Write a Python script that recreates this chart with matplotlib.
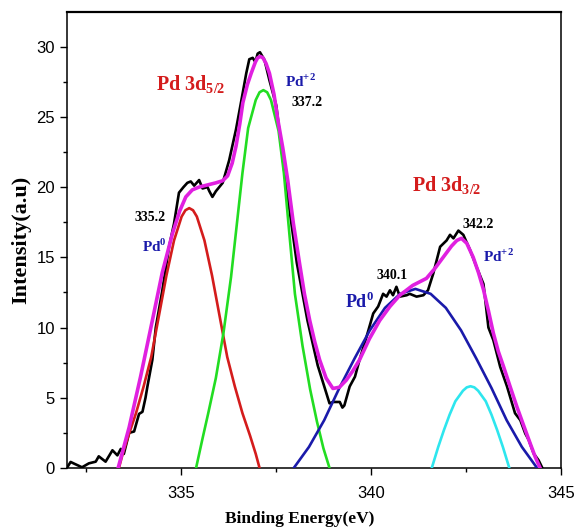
import matplotlib
matplotlib.use("Agg")
import matplotlib.pyplot as plt
from matplotlib.ticker import MultipleLocator

plt.rcParams['font.family'] = ['Liberation Sans', 'DejaVu Sans']
plt.rcParams['mathtext.fontset'] = 'custom'
plt.rcParams['mathtext.rm'] = 'Liberation Serif'
plt.rcParams['mathtext.bf'] = 'Liberation Serif:bold'

# raw spectrum (black)
raw_x = [332.0, 332.1, 332.2, 332.4, 332.58, 332.76, 332.84, 333.02, 333.2, 333.33, 333.42, 333.5,
         333.64, 333.77, 333.9, 333.99, 334.07, 334.12, 334.25, 334.34, 334.51, 334.69, 334.82, 334.95,
         335.07, 335.17, 335.26, 335.35, 335.48, 335.57, 335.7, 335.75, 335.83, 335.92, 336.1, 336.27,
         336.45, 336.58, 336.72, 336.8, 336.89, 336.96, 337.02, 337.08, 337.2, 337.33, 337.51, 337.75,
         338.05, 338.33, 338.6, 338.83, 338.91, 339.0, 339.18, 339.25, 339.3, 339.44, 339.58, 339.7,
         339.88, 340.06, 340.19, 340.32, 340.41, 340.5, 340.58, 340.67, 340.76, 340.94, 341.02, 341.2,
         341.38, 341.5, 341.64, 341.82, 341.99, 342.08, 342.17, 342.3, 342.43, 342.61, 342.78, 342.96,
         343.09, 343.22, 343.4, 343.58, 343.79, 343.93, 344.06, 344.15, 344.28, 344.41, 344.5]
raw_y = [0.0, 0.43, 0.3, 0.05, 0.33, 0.45, 0.83, 0.45, 1.26, 0.9, 1.36, 1.0,
         2.5, 2.6, 3.85, 4.0, 5.0, 5.8, 7.7, 10.0, 12.6, 15.75, 17.4, 19.6,
         20.0, 20.3, 20.4, 20.1, 20.5, 19.9, 20.0, 19.7, 19.3, 19.7, 20.3, 21.9,
         24.1, 26.0, 28.1, 29.1, 29.2, 28.9, 29.5, 29.6, 29.05, 27.6, 25.8, 20.5,
         14.6, 10.5, 7.3, 5.3, 4.6, 4.7, 4.7, 4.3, 4.45, 5.8, 6.5, 7.7,
         9.3, 11.0, 11.5, 12.4, 12.2, 12.65, 12.3, 12.9, 12.2, 12.3, 12.4, 12.2,
         12.3, 12.65, 13.85, 15.75, 16.2, 16.6, 16.35, 16.9, 16.6, 15.5, 14.3, 13.1,
         10.0, 9.1, 7.2, 5.8, 3.9, 3.4, 2.45, 2.0, 1.03, 0.55, 0.05]

# Pd0 3d5/2 component (red)
red_x = [333.37, 333.47, 333.62, 333.82, 334.02, 334.22, 334.42, 334.62, 334.82, 335.02, 335.12, 335.22,
         335.32, 335.42, 335.62, 335.82, 336.02, 336.22, 336.42, 336.62, 336.82, 336.97, 337.07]
red_y = [0.0, 1.0, 2.3, 3.9, 5.8, 7.9, 10.8, 13.7, 16.2, 17.9, 18.35, 18.5,
         18.35, 17.9, 16.2, 13.7, 10.8, 7.9, 5.8, 3.9, 2.3, 1.0, 0.0]

# Pd+2 3d5/2 component (green)
green_x = [335.40, 335.57, 335.72, 335.92, 336.12, 336.32, 336.47, 336.62, 336.77, 336.97, 337.07, 337.17,
           337.27, 337.37, 337.57, 337.71, 337.86, 338.0, 338.2, 338.4, 338.58, 338.75, 338.91]
green_y = [0.0, 2.1, 3.9, 6.4, 9.6, 13.6, 17.3, 21.0, 24.2, 26.2, 26.75, 26.9,
           26.75, 26.2, 24.0, 21.0, 16.5, 12.4, 8.7, 5.6, 3.3, 1.4, 0.0]

# Pd0 3d3/2 component (blue)
blue_x = [337.97, 338.37, 338.77, 339.17, 339.57, 339.97, 340.37, 340.77, 341.17,
          341.57, 341.97, 342.37, 342.77, 343.17, 343.57, 343.97, 344.37]
blue_y = [0.0, 1.5, 3.4, 5.7, 7.8, 9.8, 11.4, 12.4, 12.75,
          12.4, 11.4, 9.8, 7.8, 5.7, 3.4, 1.5, 0.0]

# Pd+2 3d3/2 component (cyan)
cyan_x = [341.60, 341.77, 341.92, 342.07, 342.22, 342.42, 342.52, 342.62, 342.72, 342.82,
          343.02, 343.17, 343.32, 343.47, 343.64]
cyan_y = [0.0, 1.5, 2.7, 3.8, 4.75, 5.5, 5.74, 5.82, 5.74, 5.5,
          4.75, 3.8, 2.7, 1.5, 0.0]

# cumulative fit (magenta)
fit_x = [333.35, 333.64, 333.94, 334.25, 334.51, 334.78, 334.97, 335.13, 335.3, 335.48, 335.7, 335.92,
         336.1, 336.23, 336.35, 336.45, 336.55, 336.63, 336.75, 336.85, 336.96, 337.02, 337.09, 337.16,
         337.24, 337.33, 337.45, 337.55, 337.68, 337.81, 337.96, 338.12, 338.25, 338.39, 338.52, 338.65,
         338.82, 339.0, 339.17, 339.35, 339.52, 339.7, 339.96, 340.23, 340.5, 340.76, 341.1, 341.46,
         341.68, 341.9, 342.12, 342.26, 342.38, 342.52, 342.69, 342.83, 342.96, 343.09, 343.22, 343.35,
         343.49, 343.66, 343.84, 344.02, 344.19, 344.32, 344.45]
fit_y = [0.0, 2.9, 6.5, 10.5, 13.9, 16.7, 18.3, 19.3, 19.8, 20.0, 20.15, 20.3,
         20.45, 20.8, 21.7, 22.9, 24.5, 26.0, 27.3, 28.1, 28.9, 29.2, 29.3, 29.2,
         28.8, 28.1, 26.6, 24.8, 22.8, 20.5, 17.4, 14.6, 12.4, 10.5, 9.0, 7.7,
         6.4, 5.66, 5.75, 6.25, 6.9, 7.7, 9.2, 10.5, 11.5, 12.3, 13.0, 13.5,
         14.2, 15.0, 15.8, 16.2, 16.35, 16.0, 15.0, 13.9, 12.7, 11.2, 9.6, 8.3,
         7.2, 5.8, 4.35, 3.0, 1.74, 0.8, 0.0]

fig = plt.figure(figsize=(5.76, 5.3), dpi=100)
ax = fig.add_axes([0.116, 0.117, 0.858, 0.860])

ax.plot(raw_x, raw_y, color='black', lw=1.9, zorder=2)
ax.plot(red_x, red_y, color='#d41c1c', lw=1.9, zorder=3)
ax.plot(green_x, green_y, color='#22dd22', lw=1.9, zorder=3)
ax.plot(blue_x, blue_y, color='#1a1aaa', lw=1.9, zorder=3)
ax.plot(cyan_x, cyan_y, color='#2ee6ee', lw=1.9, zorder=3)
ax.plot(fit_x, fit_y, color='#e020e0', lw=2.6, zorder=4)

ax.set_xlim(332, 345)
ax.set_ylim(0, 32.45)
ax.xaxis.set_major_locator(MultipleLocator(5))
ax.xaxis.set_minor_locator(MultipleLocator(2.5))
ax.yaxis.set_major_locator(MultipleLocator(5))
ax.yaxis.set_minor_locator(MultipleLocator(2.5))
ax.tick_params(which='major', direction='out', length=5, width=1, labelsize=12)
ax.tick_params(axis='x', which='major', pad=8)
ax.tick_params(which='minor', direction='out', length=3, width=1)
for s in ax.spines.values():
    s.set_linewidth(1.1)
ax.spines['top'].set_linewidth(1.6)

ax.set_xlabel('Binding Energy(eV)', family='Liberation Serif', fontweight='bold', fontsize=12.5, labelpad=6)
ax.xaxis.set_label_coords(0.472, -0.095)
ax.set_ylabel('Intensity(a.u)', family='Liberation Serif', fontweight='bold', fontsize=16)
ax.yaxis.set_label_coords(-0.072, 0.5)

serif = dict(family='Liberation Serif', fontweight='bold')
ax.text(334.35, 27.3, r'Pd 3d$_{\mathbf{5/2}}$', color='#d41c1c', fontsize=14.5, va='center', **serif)
ax.text(341.07, 20.1, r'Pd 3d$_{\mathbf{3/2}}$', color='#d41c1c', fontsize=14.5, va='center', **serif)
ax.text(337.73, 27.5, r'Pd$^{\mathbf{+2}}$', color='#1a1aaa', fontsize=11, va='center', **serif)
ax.text(337.92, 26.0, '337.2', color='black', fontsize=10, va='center', **serif)
ax.text(333.77, 17.8, '335.2', color='black', fontsize=10, va='center', **serif)
ax.text(333.98, 15.8, r'Pd$^{\mathbf{0}}$', color='#1a1aaa', fontsize=11, va='center', **serif)
ax.text(342.42, 17.3, '342.2', color='black', fontsize=10, va='center', **serif)
ax.text(342.95, 15.1, r'Pd$^{\mathbf{+2}}$', color='#1a1aaa', fontsize=11, va='center', **serif)
ax.text(340.14, 13.7, '340.1', color='black', fontsize=10, va='center', **serif)
ax.text(339.31, 11.8, r'Pd$^{\mathbf{0}}$', color='#1a1aaa', fontsize=13, va='center', **serif)

fig.savefig('out.png', dpi=100)
